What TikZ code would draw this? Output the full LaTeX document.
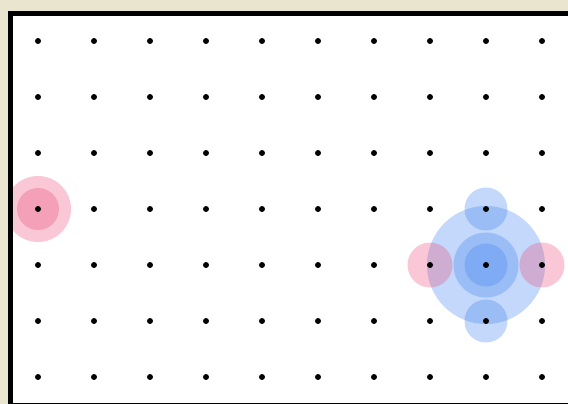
\documentclass[tikz,border=0pt]{standalone}
\definecolor{bgbeige}{RGB}{234,229,206}
\definecolor{pinkc}{RGB}{236,72,120}
\definecolor{bluec}{RGB}{70,135,240}
\tikzset{
  gridpt/.style={fill=black},
  pinkhalo/.style={fill=pinkc, fill opacity=0.3},
  bluehalo/.style={fill=bluec, fill opacity=0.32},
  boardedge/.style={draw=black, line width=5pt}
}
\begin{document}
\begin{tikzpicture}[x=1pt,y=-1pt]
\useasboundingbox (0,0) rectangle (568,404);
\fill[bgbeige] (0,0) rectangle (568,404);
\begin{scope}
\clip (0,0) rectangle (568,404);
\fill[white] (10.5,13.5) rectangle (590,405.5);
\begin{scope}
\clip (10.5,13.5) rectangle (590,405.5);
% pink halo on the left
\fill[pinkhalo] (38,209) circle (33);
\fill[pinkhalo] (38,209) circle (21);
% blue cluster
\fill[bluehalo] (486,265) circle (59);
\fill[bluehalo] (486,265) circle (32.5);
\fill[bluehalo] (486,265) circle (21.5);
\fill[bluehalo] (486,209) circle (21.5);
\fill[bluehalo] (486,321) circle (21.5);
\fill[pinkhalo] (430,265) circle (22.5);
\fill[pinkhalo] (542,265) circle (22.5);
\end{scope}
\draw[boardedge] (10.5,13.5) rectangle (590,405.5);
\end{scope}
% grid dots
\foreach \i in {0,...,9}{
  \foreach \j in {0,...,6}{
    \fill[gridpt] (38+56*\i, 41+56*\j) circle (3);
  }
}
\end{tikzpicture}
\end{document}
